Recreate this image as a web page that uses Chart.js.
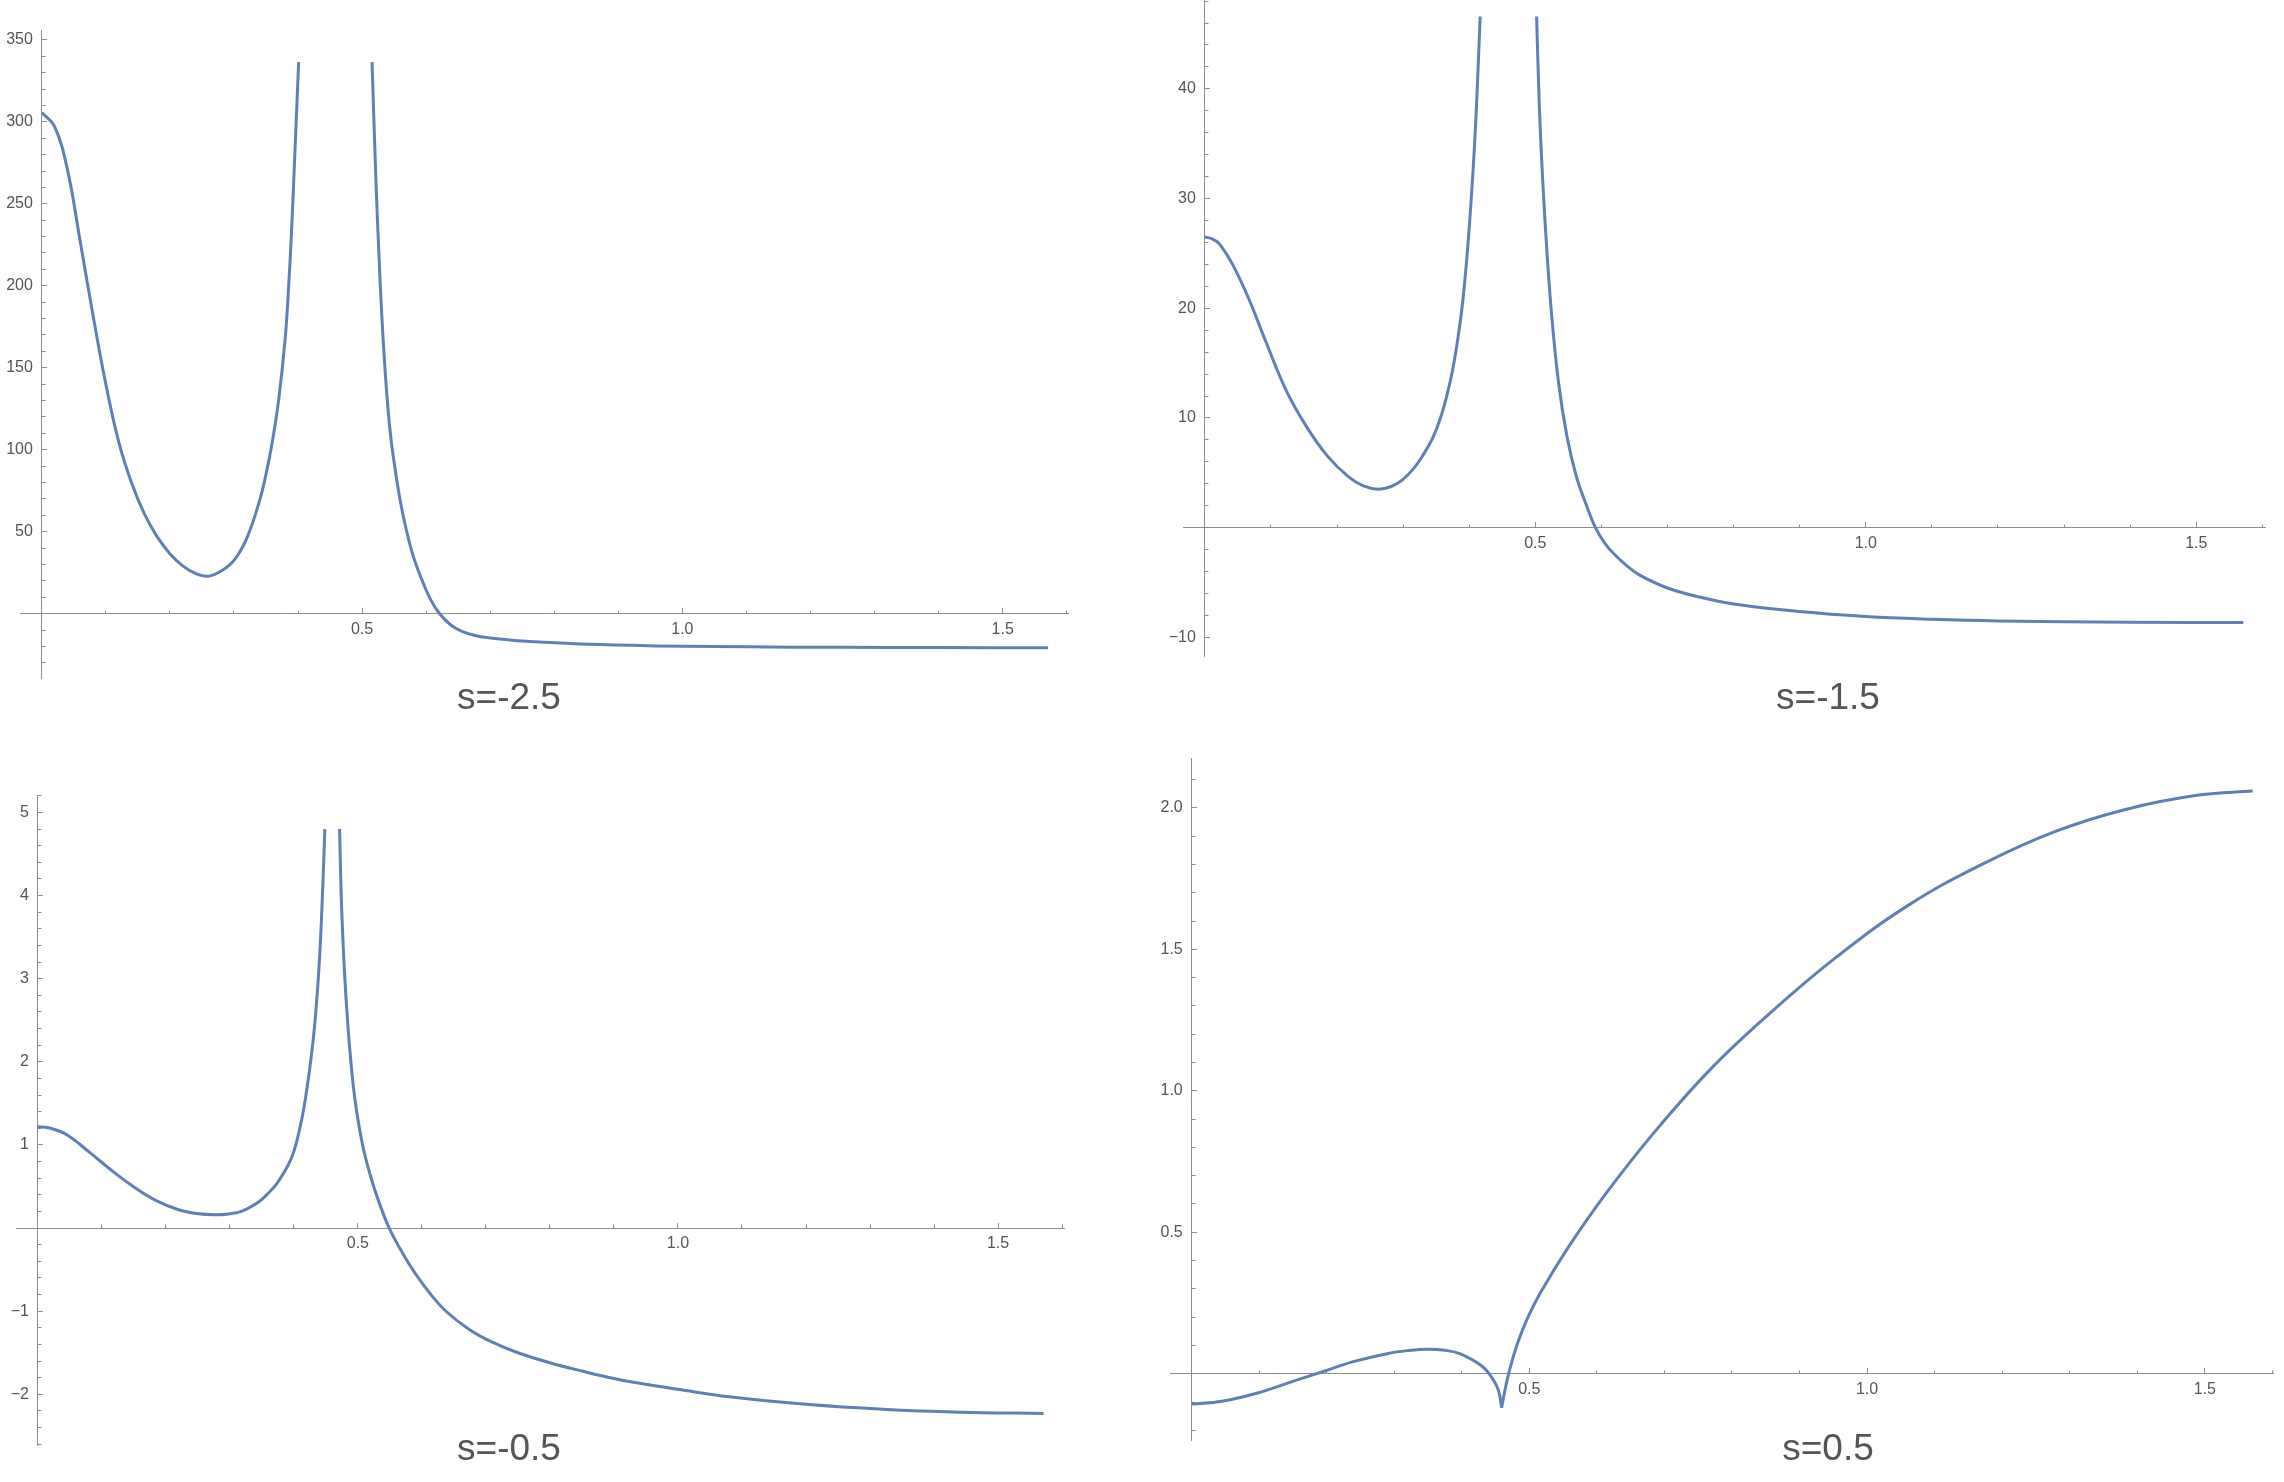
<!DOCTYPE html>
<html lang="en">
<head>
<meta charset="UTF-8" />
<title>s = -2.5, -1.5, -0.5, 0.5</title>
<script src="https://cdn.jsdelivr.net/npm/chart.js"></script>
<style>
    html, body { margin: 0; padding: 0; background: #fff; }
    #page { position: relative; width: 2284px; height: 1482px; overflow: hidden; background: #fff; }
    #page canvas { position: absolute; }
    .caption {
        position: absolute;
        transform: translate(-50%, -50%);
        font-family: "Liberation Sans", Arial, sans-serif;
        font-size: 37px;
        line-height: 1;
        color: #555;
        white-space: nowrap;
    }
</style>
</head>
<body>
<div id="page">
    <canvas id="p1" width="1148" height="748" style="left:-30px;top:-20px"></canvas>
    <canvas id="p2" width="1182" height="756" style="left:1133px;top:-50px"></canvas>
    <canvas id="p3" width="1148" height="750" style="left:-34px;top:745px"></canvas>
    <canvas id="p4" width="1203" height="782" style="left:1120px;top:708px"></canvas>

    <div class="caption" style="left:509px;top:696px">s=-2.5</div>
    <div class="caption" style="left:1828px;top:696px">s=-1.5</div>
    <div class="caption" style="left:509px;top:1447px">s=-0.5</div>
    <div class="caption" style="left:1828px;top:1447px">s=0.5</div>
</div>

<script>
// ---- tick labels ----
const xTicks = [0.5, 1.0, 1.5];
const s25YTicks = [50, 100, 150, 200, 250, 300, 350];
const s15YTicks = [-10, 10, 20, 30, 40];
const s05nYTicks = [-2, -1, 1, 2, 3, 4, 5];
const s05YTicks = [0.5, 1.0, 1.5, 2.0];

// ---- s = -2.5 ----
const s25LeftX = [0, 0.02, 0.04, 0.06, 0.08, 0.10, 0.12, 0.14, 0.16, 0.18, 0.20, 0.22, 0.24, 0.26, 0.28, 0.30, 0.32, 0.34, 0.35, 0.36, 0.37, 0.38, 0.385, 0.39, 0.395, 0.401];
const s25LeftY = [305.7, 297, 271, 227, 182, 140, 105, 80, 61, 47, 36.6, 29.2, 24.6, 22.9, 26, 32.5, 46, 69, 85, 105, 131, 168, 197, 234, 280, 336.4];
const s25RightX = [0.5156, 0.5215, 0.526, 0.5305, 0.535, 0.5395, 0.545, 0.5514, 0.56, 0.5694, 0.58, 0.5933, 0.607, 0.621, 0.638, 0.655, 0.675, 0.70, 0.73, 0.756, 0.811, 0.87, 0.921, 1.0, 1.1, 1.249, 1.4, 1.571];
const s25RightY = [336.4, 265.6, 222, 184, 154, 129.6, 107, 88.7, 68, 50.6, 35, 20.7, 8.6, 0, -6.7, -10.6, -13.1, -14.8, -16.0, -16.75, -17.9, -18.8, -19.3, -19.85, -20.2, -20.5, -20.65, -20.7];

// ---- s = -1.5 ----
const s15LeftX = [0, 0.012, 0.023, 0.042, 0.067, 0.092, 0.124, 0.155, 0.186, 0.218, 0.24, 0.262, 0.282, 0.299, 0.316, 0.331, 0.345, 0.356, 0.366, 0.375, 0.383, 0.390, 0.397, 0.403, 0.408, 0.412, 0.4166];
const s15LeftY = [26.5, 26.3, 25.8, 24.0, 20.8, 17.0, 12.4, 9.1, 6.5, 4.6, 3.8, 3.5, 3.75, 4.35, 5.4, 6.7, 8.2, 9.9, 12.0, 14.4, 17.3, 20.5, 25.0, 29.9, 34.8, 39.8, 46.6];
const s15RightX = [0.502, 0.506, 0.511, 0.518, 0.525, 0.535, 0.548, 0.562, 0.577, 0.591, 0.605, 0.62, 0.64, 0.66, 0.70, 0.75, 0.80, 0.90, 1.0, 1.1, 1.2, 1.4, 1.571];
const s15RightY = [46.6, 38.6, 31.9, 24.8, 19.2, 13.3, 8.3, 4.7, 2.1, 0, -1.4, -2.45, -3.55, -4.4, -5.5, -6.35, -6.95, -7.65, -8.1, -8.35, -8.5, -8.62, -8.65];

// ---- s = -0.5 ----
const s05nLeftX = [0, 0.02, 0.046, 0.081, 0.116, 0.151, 0.185, 0.22, 0.248, 0.276, 0.298, 0.318, 0.346, 0.36, 0.374, 0.395, 0.407, 0.418, 0.430, 0.438, 0.4435, 0.4484];
const s05nLeftY = [1.22, 1.2, 1.12, 0.91, 0.69, 0.49, 0.33, 0.22, 0.175, 0.16, 0.17, 0.20, 0.32, 0.42, 0.54, 0.82, 1.12, 1.55, 2.25, 2.98, 3.78, 4.80];
const s05nRightX = [0.4714, 0.475, 0.482, 0.493, 0.506, 0.52, 0.534, 0.549, 0.569, 0.59, 0.614, 0.639, 0.674, 0.709, 0.75, 0.80, 0.85, 0.90, 0.95, 1.0, 1.08, 1.2, 1.32, 1.44, 1.571];
const s05nRightY = [4.80, 3.78, 2.71, 1.70, 1.05, 0.62, 0.29, 0, -0.29, -0.55, -0.80, -1.01, -1.22, -1.37, -1.50, -1.62, -1.72, -1.81, -1.88, -1.94, -2.03, -2.12, -2.18, -2.215, -2.23];

// ---- s = 0.5 ----
const s05LeftX = [0, 0.045, 0.099, 0.152, 0.195, 0.238, 0.291, 0.32, 0.35, 0.375, 0.398, 0.431, 0.445, 0.452, 0.456, 0.459];
const s05LeftY = [-0.107, -0.097, -0.067, -0.025, 0.008, 0.042, 0.072, 0.082, 0.087, 0.083, 0.070, 0.025, -0.015, -0.045, -0.075, -0.12];
const s05RightX = [0.459, 0.4625, 0.4676, 0.475, 0.484, 0.497, 0.516, 0.559, 0.613, 0.688, 0.773, 0.859, 0.955, 1.062, 1.17, 1.277, 1.384, 1.491, 1.571];
const s05RightY = [-0.12, -0.075, -0.017, 0.05, 0.118, 0.195, 0.285, 0.452, 0.636, 0.862, 1.088, 1.280, 1.473, 1.657, 1.800, 1.915, 1.995, 2.045, 2.059];

const lineColor = '#5e81b5';
const axisColor = '#8c8c8c';
const labelColor = '#555';
const tickFont = { family: '"Liberation Sans", Arial, sans-serif', size: 16 };

function points(xs, ys) {
    return xs.map((x, i) => ({ x: x, y: ys[i] }));
}

function minorTicks(min, max, step, major) {
    const out = [];
    for (let n = Math.ceil(min / step); n <= Math.floor(max / step); n++) {
        const v = +(n * step).toFixed(4);
        if (v === 0 || major.some(m => Math.abs(m - v) < 1e-6)) continue;
        out.push(v);
    }
    return out;
}

function fmt(v, digits) {
    return v.toFixed(digits).replace('-', '\u2212');
}

function curve(xs, ys) {
    return {
        data: points(xs, ys),
        showLine: true,
        borderColor: lineColor,
        borderWidth: 3,
        pointRadius: 0,
        fill: false,
        tension: 0.4
    };
}

function axisPair(axis, min, max, major, step, digits) {
    const horizontal = axis === 'x';
    const flat = s => { if (horizontal) s.height = 0; else s.width = 0; };
    const where = horizontal ? { y: 0 } : { x: 0 };
    const main = {
        type: 'linear', axis: axis, min: min, max: max, position: where,
        afterFit: flat,
        afterBuildTicks: s => { s.ticks = major.map(v => ({ value: v })); },
        border: { display: true, color: axisColor, width: 1 },
        grid: { drawOnChartArea: false, drawTicks: true, tickLength: -6, tickColor: axisColor, tickWidth: 1 },
        ticks: {
            autoSkip: false, maxRotation: 0, minRotation: 0,
            padding: 12, color: labelColor, font: tickFont,
            callback: v => horizontal ? fmt(v, digits) : fmt(v, digits) + '  '
        }
    };
    const minors = minorTicks(min, max, step, major);
    const minor = {
        type: 'linear', axis: axis, min: min, max: max, position: where,
        afterFit: flat,
        afterBuildTicks: s => { s.ticks = minors.map(v => ({ value: v })); },
        border: { display: false },
        grid: { drawOnChartArea: false, drawTicks: true, tickLength: -3.5, tickColor: axisColor, tickWidth: 1 },
        ticks: { display: false, autoSkip: false }
    };
    return [main, minor];
}

function makePanel(id, xRange, yRange, yTicks, yStep, yDigits, branches) {
    const [x, xMinor] = axisPair('x', xRange[0], xRange[1], xTicks, 0.1, 1);
    const [y, yMinor] = axisPair('y', yRange[0], yRange[1], yTicks, yStep, yDigits);
    new Chart(document.getElementById(id), {
        type: 'scatter',
        data: { datasets: branches.map(b => curve(b[0], b[1])) },
        options: {
            responsive: false,
            animation: false,
            layout: { padding: 50 },
            plugins: { legend: { display: false }, tooltip: { enabled: false } },
            scales: { x: x, xMinor: xMinor, y: y, yMinor: yMinor }
        }
    });
}

makePanel('p1', [-0.034, 1.602], [-39.2, 356], s25YTicks, 10, 0,
    [[s25LeftX, s25LeftY], [s25RightX, s25RightY]]);
makePanel('p2', [-0.033, 1.604], [-11.7, 48.1], s15YTicks, 2, 0,
    [[s15LeftX, s15LeftY], [s15RightX, s15RightY]]);
makePanel('p3', [-0.034, 1.603], [-2.61, 5.21], s05nYTicks, 0.2, 0,
    [[s05nLeftX, s05nLeftY], [s05nRightX, s05nRightY]]);
makePanel('p4', [-0.032, 1.601], [-0.234, 2.176], s05YTicks, 0.1, 1,
    [[s05LeftX, s05LeftY], [s05RightX, s05RightY]]);
</script>
</body>
</html>
